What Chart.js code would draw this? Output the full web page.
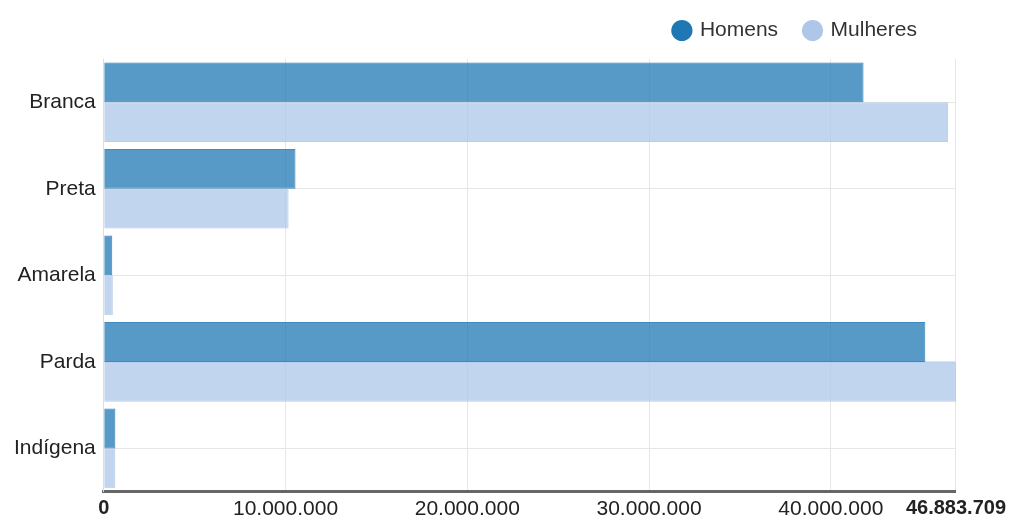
<!DOCTYPE html>
<html>
<head>
<meta charset="utf-8">
<script src="https://cdn.jsdelivr.net/npm/chart.js@4"></script>
<style>
  html, body { margin: 0; padding: 0; background: #fff; }
  #wrap { width: 1010px; height: 520px; }
</style>
</head>
<body>
<div id="wrap"><canvas id="chart"></canvas></div>
<script>
const categories = ["Branca", "Preta", "Amarela", "Parda", "Indígena"];
const homens = [41800000, 10550000, 470000, 45200000, 640000];
const mulheres = [46450000, 10170000, 500000, 46883709, 640000];
const xTicks = [0, 10000000, 20000000, 30000000, 40000000, 46883709];

const TEXT = "#222";
const GRID = "#e6e6e6";
const FONT = "'Liberation Sans', Arial, sans-serif";
const SOLID = ["rgb(31,119,180)", "rgb(174,199,232)"];

const fmtNum = (v) => String(Math.round(v)).replace(/\B(?=(\d{3})+(?!\d))/g, ".");
const xMax = xTicks[xTicks.length - 1];

// taller legend box so the plot starts lower, and nudge the legend up/left
const legendSpacing = {
  id: "legendSpacing",
  beforeInit(chart) {
    const fit = chart.legend.fit;
    chart.legend.fit = function () {
      fit.bind(chart.legend)();
      this.height = 59;
    };
  },
  afterLayout(chart) {
    const lg = chart.legend;
    lg.top -= 7;
    lg.bottom -= 7;
    lg.left -= 12;
    lg.right -= 12;
  },
};

new Chart(document.getElementById("chart"), {
  type: "bar",
  data: {
    labels: categories,
    datasets: [
      {
        label: "Homens",
        data: homens,
        backgroundColor: "rgba(31,119,180,0.75)",
        borderColor: "rgba(31,119,180,0.85)",
        borderWidth: 1,
      },
      {
        label: "Mulheres",
        data: mulheres,
        backgroundColor: "rgba(174,199,232,0.75)",
        borderColor: "rgba(174,199,232,0.85)",
        borderWidth: 1,
      },
    ],
  },
  options: {
    indexAxis: "y",
    responsive: true,
    maintainAspectRatio: false,
    animation: false,
    layout: { padding: { top: 0, left: 6, right: 4, bottom: -7 } },
    datasets: { bar: { categoryPercentage: 0.92, barPercentage: 1 } },
    plugins: {
      legend: {
        position: "top",
        align: "end",
        fullSize: false,
        labels: {
          usePointStyle: true,
          pointStyle: "circle",
          boxWidth: 15,
          boxHeight: 15,
          padding: 27,
          color: "#333",
          font: { family: FONT, size: 21 },
          generateLabels: (chart) =>
            Chart.defaults.plugins.legend.labels
              .generateLabels(chart)
              .map((l, i) => ({ ...l, fillStyle: SOLID[i], strokeStyle: SOLID[i], lineWidth: 0 })),
        },
      },
      tooltip: { enabled: false },
    },
    scales: {
      x: {
        min: 0,
        max: xMax,
        afterBuildTicks: (scale) => {
          scale.ticks = xTicks.map((v) => ({ value: v }));
        },
        grid: { color: GRID, drawTicks: false },
        border: { color: "#666", width: 3 },
        ticks: {
          color: TEXT,
          padding: 4,
          maxRotation: 0,
          autoSkip: false,
          font: (c) => {
            const edge = c.tick && (c.tick.value === 0 || c.tick.value === xMax);
            return { family: FONT, size: edge ? 20 : 21, weight: edge ? "bold" : "normal", lineHeight: 1.3 };
          },
          callback: (v) => fmtNum(v),
        },
      },
      y: {
        grid: { color: GRID, offset: false, drawTicks: false },
        border: { color: "#ddd", width: 1 },
        ticks: {
          color: TEXT,
          padding: 8,
          font: { family: FONT, size: 21 },
        },
      },
    },
  },
  plugins: [legendSpacing],
});
</script>
</body>
</html>
